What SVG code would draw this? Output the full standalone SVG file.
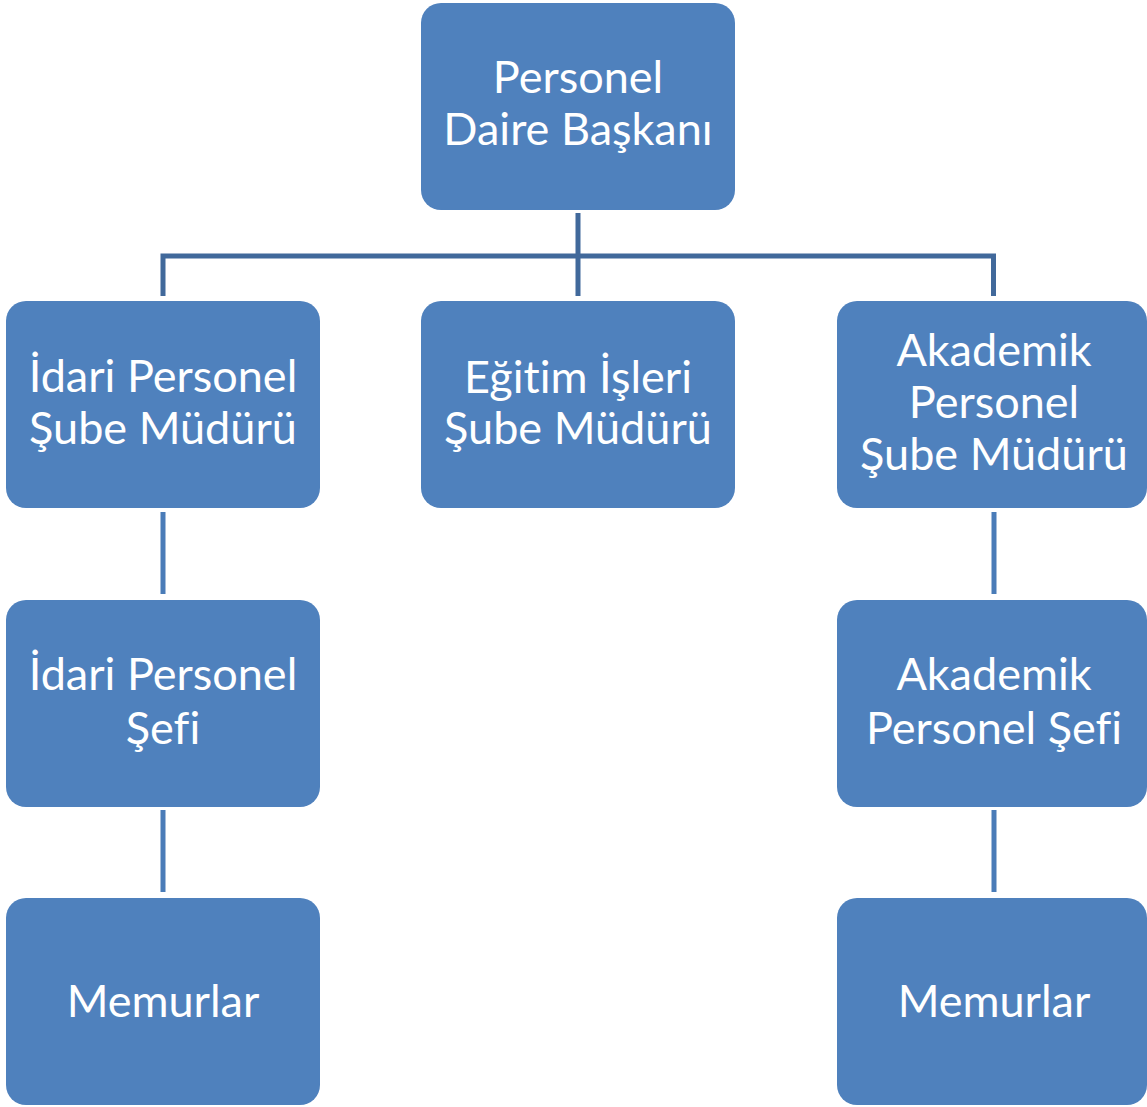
<svg xmlns="http://www.w3.org/2000/svg" width="1147" height="1107" viewBox="0 0 1147 1107">
<style>
.box{fill:#4F81BD;}
.t{font-family:Lato,"Open Sans","Liberation Sans",sans-serif;font-size:45px;fill:#FFFFFF;text-anchor:middle;font-variant-ligatures:none;font-feature-settings:"liga" 0;}
.tree{stroke:#41699B;stroke-width:5;fill:none;}
.v{stroke:#4A7CB8;stroke-width:5;fill:none;}
</style>
<rect width="1147" height="1107" fill="#FFFFFF"/>
<g id="connectors">
<path class="tree" d="M578 213V296M163 296V256H993.5V296"/>
<path class="v" d="M163 512V594M163 810V892M994 512V594M994 810V892"/>
</g>
<g id="n1"><rect class="box" x="421" y="3" width="314" height="207" rx="20"/><text class="t" x="578" y="93">Personel</text><text class="t" x="578" y="145">Daire Başkanı</text></g>
<g id="n2"><rect class="box" x="6" y="301" width="314" height="207" rx="20"/><text class="t" x="163" y="392">İdari Personel</text><text class="t" x="163" y="444">Şube Müdürü</text></g>
<g id="n3"><rect class="box" x="421" y="301" width="314" height="207" rx="20"/><text class="t" x="578" y="393">Eğitim İşleri</text><text class="t" x="578" y="444">Şube Müdürü</text></g>
<g id="n4"><rect class="box" x="837" y="301" width="310" height="207" rx="20"/><text class="t" x="994" y="366">Akademik</text><text class="t" x="994" y="418">Personel</text><text class="t" x="994" y="470">Şube Müdürü</text></g>
<g id="n5"><rect class="box" x="6" y="600" width="314" height="207" rx="20"/><text class="t" x="163" y="690">İdari Personel</text><text class="t" x="163" y="744">Şefi</text></g>
<g id="n6"><rect class="box" x="837" y="600" width="310" height="207" rx="20"/><text class="t" x="994" y="690">Akademik</text><text class="t" x="994" y="744">Personel Şefi</text></g>
<g id="n7"><rect class="box" x="6" y="898" width="314" height="207" rx="20"/><text class="t" x="163" y="1017">Memurlar</text></g>
<g id="n8"><rect class="box" x="837" y="898" width="310" height="207" rx="20"/><text class="t" x="994" y="1017">Memurlar</text></g>
</svg>
